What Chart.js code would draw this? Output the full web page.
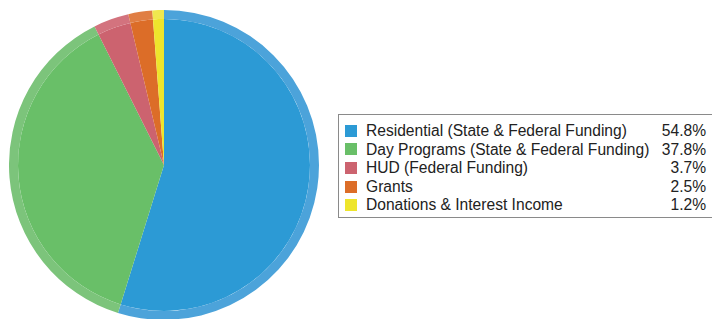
<!DOCTYPE html>
<html>
<head>
<meta charset="utf-8">
<script src="https://cdn.jsdelivr.net/npm/chart.js@4"></script>
<style>
  html, body { margin: 0; padding: 0; background: #fff; width: 712px; height: 319px; overflow: hidden; }
  #pieBox { position: absolute; left: 9px; top: 10px; width: 310px; height: 310px; }
  #legend {
    position: absolute; left: 338px; top: 114px; width: 380px; height: 104px;
    border: 1px solid #8a8a8a; box-sizing: border-box;
    font-family: "Liberation Sans", Arial, sans-serif; font-size: 15.6px; color: #222;
  }
  #legend table { border-collapse: collapse; margin-top: 7px; width: 367px; }
  #legend td { padding: 0; height: 18.6px; line-height: 18.6px; white-space: nowrap; }
  .sw { width: 12px; height: 12px; display: inline-block; vertical-align: middle; margin: 0 9px 0 6px; position: relative; top: -1px; }
  .pct { text-align: right; }
</style>
</head>
<body>
<div id="pieBox"><canvas id="pie"></canvas></div>
<div id="legend"><table id="legTable"></table></div>
<script>
var categories = [
  'Residential (State & Federal Funding)',
  'Day Programs (State & Federal Funding)',
  'HUD (Federal Funding)',
  'Grants',
  'Donations & Interest Income'
];
var values = [54.8, 37.8, 3.7, 2.5, 1.2];
var colors = ['#2C9AD5', '#69BF68', '#CC636F', '#DC6D28', '#EEE52C'];
var ringColors = ['#4CA3DA', '#7CC47B', '#D3737E', '#E07E44', '#F0E84F'];

document.addEventListener("DOMContentLoaded", function () {
    var tbl = document.getElementById('legTable');
    categories.forEach(function (name, i) {
        var tr = document.createElement('tr');
        var td1 = document.createElement('td');
        var sw = document.createElement('span');
        sw.className = 'sw';
        sw.style.background = colors[i];
        td1.appendChild(sw);
        td1.appendChild(document.createTextNode(name));
        var td2 = document.createElement('td');
        td2.className = 'pct';
        td2.textContent = values[i].toFixed(1) + '%';
        tr.appendChild(td1);
        tr.appendChild(td2);
        tbl.appendChild(tr);
    });

    var ctx = document.getElementById('pie').getContext('2d');
    new Chart(ctx, {
        type: 'pie',
        data: {
            labels: categories,
            datasets: [{
                data: values,
                backgroundColor: ringColors,
                borderWidth: 0,
                weight: 9
            }, {
                data: values,
                backgroundColor: colors,
                borderWidth: 0,
                weight: 146
            }]
        },
        options: {
            responsive: true,
            maintainAspectRatio: false,
            animation: false,
            hoverOffset: 0,
            layout: { padding: 0 },
            plugins: {
                legend: { display: false },
                tooltip: { enabled: false }
            }
        }
    });
});
</script>
</body>
</html>
